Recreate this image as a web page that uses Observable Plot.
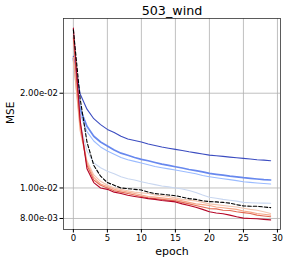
<!DOCTYPE html>
<html><head><meta charset="utf-8">
<script src="https://cdn.jsdelivr.net/npm/d3@7"></script>
<script src="https://cdn.jsdelivr.net/npm/@observablehq/plot@0.6"></script>
<style>body{margin:0;background:#fff} svg{font-family:"DejaVu Sans",sans-serif}</style>
</head><body><div id="chart"></div>
<script>
const epochs = [0,1,2,3,4,5,6,7,8,9,10,11,12,13,14,15,16,17,18,19,20,21,22,23,24,25,26,27,28,29];
const xTicks = [0,5,10,15,20,25,30];
const yTicks = [0.02, 0.01, 0.008];
const title = "503_wind";
const xLabel = "epoch";
const yLabel = "MSE";

const darkBlue = [0.0262,0.0199,0.0178,0.0166,0.0159,0.01535,0.0150,0.0146,0.0143,0.01415,0.0140,0.0138,0.01365,0.0135,0.01338,0.01326,0.01315,0.01303,0.01293,0.01282,0.01272,0.01266,0.0126,0.01253,0.01247,0.01242,0.01236,0.0123,0.01226,0.0122];
const medBlue = [0.0258,0.0178,0.0157,0.0146,0.0140,0.0136,0.0132,0.0129,0.0127,0.0125,0.01233,0.0122,0.01205,0.0119,0.0118,0.01168,0.01157,0.01145,0.01135,0.01125,0.01113,0.01105,0.01098,0.0109,0.01085,0.01078,0.01073,0.01068,0.01063,0.0106];
const lightBlue = [0.0255,0.0172,0.0151,0.0141,0.0135,0.0131,0.0128,0.0125,0.0123,0.01215,0.0120,0.01185,0.0117,0.0116,0.0115,0.0114,0.0113,0.0112,0.0111,0.01095,0.01086,0.01078,0.0107,0.01063,0.01055,0.01047,0.01042,0.01037,0.01033,0.0103];
const paleBlue = [0.0252,0.0160,0.0131,0.0120,0.0116,0.0113,0.0111,0.01085,0.0107,0.0106,0.01047,0.01035,0.01025,0.01015,0.01008,0.0100,0.00992,0.00982,0.00968,0.0095,0.00934,0.00928,0.0092,0.00914,0.00908,0.0090,0.00898,0.00896,0.00895,0.00894];
const paleRed = [0.0255,0.0158,0.0122,0.0110,0.0105,0.0102,0.0100,0.0099,0.0098,0.0097,0.00965,0.0096,0.0095,0.00945,0.0094,0.0093,0.0092,0.00915,0.0091,0.0090,0.0089,0.00885,0.0088,0.00875,0.0087,0.00862,0.00855,0.0085,0.0084,0.0083];
const salmon = [0.0260,0.0152,0.0120,0.0108,0.0103,0.0101,0.0099,0.0098,0.0097,0.0096,0.0095,0.0094,0.00935,0.0093,0.00925,0.0092,0.0091,0.0090,0.0089,0.00885,0.0088,0.0087,0.00865,0.0086,0.00855,0.00845,0.00838,0.0083,0.00825,0.0082];
const orangeRed = [0.0300,0.0160,0.0118,0.0106,0.0102,0.0100,0.0098,0.0097,0.0096,0.0095,0.0094,0.0093,0.00925,0.0092,0.00915,0.0091,0.0090,0.0089,0.0088,0.0087,0.0086,0.00858,0.0085,0.00848,0.0084,0.00835,0.0083,0.0082,0.00815,0.0081];
const darkRed = [0.0322,0.0164,0.0115,0.0104,0.0100,0.0099,0.0097,0.0096,0.00948,0.0094,0.00933,0.00925,0.0092,0.00912,0.00908,0.00903,0.0089,0.0088,0.00868,0.00855,0.0084,0.00833,0.00828,0.0082,0.0081,0.00802,0.0080,0.00798,0.00795,0.00792];
const baseline = [0.0318,0.0192,0.0140,0.0118,0.0109,0.0104,0.0102,0.0100,0.00995,0.0099,0.00985,0.0097,0.0096,0.00955,0.0095,0.00945,0.00935,0.00925,0.0092,0.0091,0.00905,0.00903,0.0090,0.00895,0.00885,0.00877,0.00875,0.00875,0.0087,0.00866];

const series = [
  {values: darkBlue, color: "#3b4cc0", width: 1.1},
  {values: medBlue, color: "#6788ee", width: 1.7},
  {values: lightBlue, color: "#9abbff", width: 1.1},
  {values: paleBlue, color: "#c9d7f0", width: 1.1},
  {values: paleRed, color: "#f2c5b0", width: 1.1},
  {values: salmon, color: "#f7a889", width: 1.1},
  {values: orangeRed, color: "#e26952", width: 1.1},
  {values: darkRed, color: "#b40426", width: 1.1}
];
const toRows = vals => epochs.map((e, i) => ({epoch: e, mse: vals[i]}));

const fmt = v => {
  const [m, e] = v.toExponential(2).split("e");
  const n = +e;
  return m + "e" + (n < 0 ? "-" : "+") + String(Math.abs(n)).padStart(2, "0");
};

const gridStyle = {stroke: "#b0b0b0", strokeOpacity: 1, strokeWidth: 0.8};

const plot = Plot.plot({
  width: 288, height: 262,
  marginLeft: 63, marginRight: 8, marginTop: 18, marginBottom: 33,
  style: {fontFamily: "DejaVu Sans, sans-serif", fontSize: "8.5px", color: "#000", background: "#fff"},
  x: {domain: [-1.45, 30.45]},
  y: {type: "log", domain: [0.00738, 0.03455]},
  marks: [
    Plot.gridX(xTicks, gridStyle),
    Plot.gridY(yTicks, gridStyle),
    ...series.map(s => Plot.line(toRows(s.values), {x: "epoch", y: "mse", stroke: s.color, strokeWidth: s.width})),
    Plot.line(toRows(baseline), {x: "epoch", y: "mse", stroke: "#000", strokeWidth: 1.1, strokeDasharray: "3.5,2"}),
    Plot.frame({stroke: "#333", strokeWidth: 0.8}),
    Plot.axisX(xTicks, {tickSize: 3.5, tickPadding: 2, label: null, tickFormat: d => String(d)}),
    Plot.axisY(yTicks, {tickSize: 3.5, tickPadding: 2, label: null, tickFormat: fmt}),
    Plot.text([title], {text: d => d, frameAnchor: "top", lineAnchor: "middle", dy: -8, fontSize: 12.7}),
    Plot.text([xLabel], {text: d => d, frameAnchor: "bottom", lineAnchor: "middle", dy: 21.5, fontSize: 11}),
    Plot.text([yLabel], {text: d => d, frameAnchor: "left", lineAnchor: "middle", dx: -52.4, rotate: -90, fontSize: 10.5})
  ]
});
document.getElementById("chart").appendChild(plot);
</script>
</body></html>
